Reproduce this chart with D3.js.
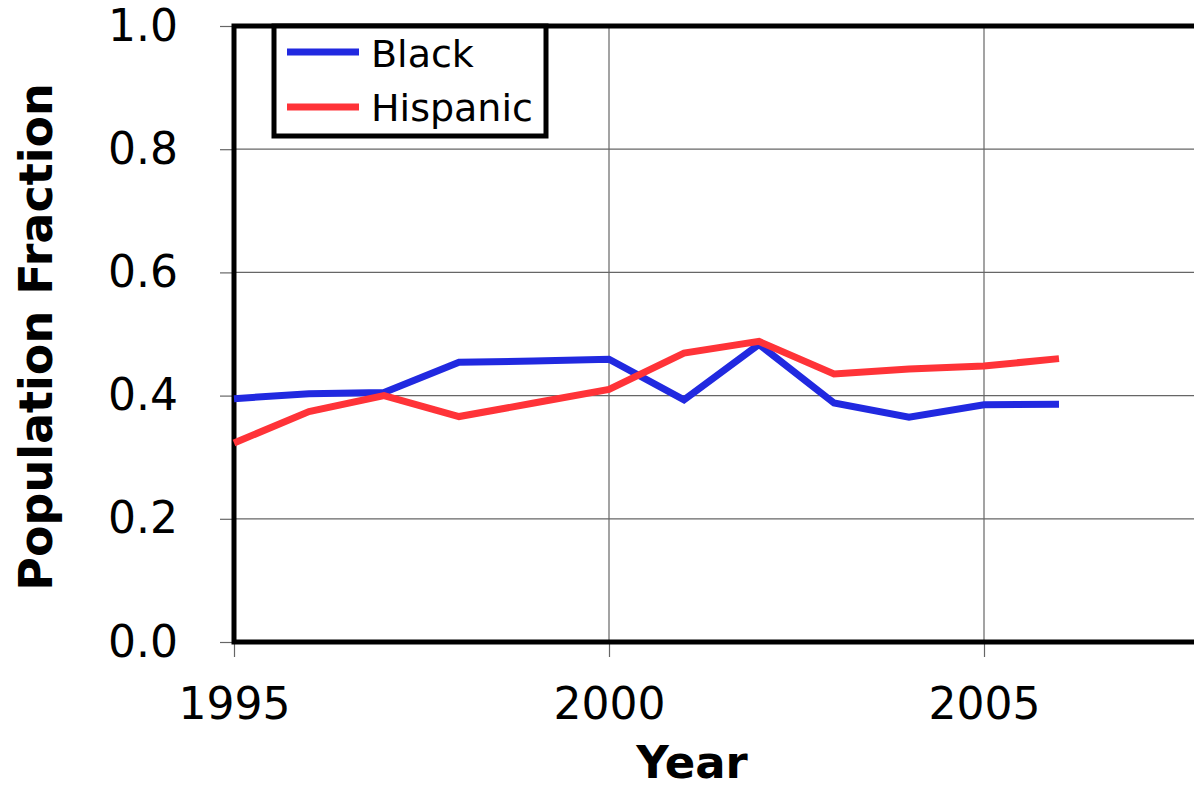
<!DOCTYPE html>
<html>
<head>
<meta charset="utf-8">
<script src="https://cdn.jsdelivr.net/npm/d3@7"></script>
<style>
  body { margin: 0; background: #fff; }
  text { font-family: "DejaVu Sans", Verdana, sans-serif; }
</style>
</head>
<body>
<div id="chart"></div>
<script>
// data
var years = [1995, 1996, 1997, 1998, 1999, 2000, 2001, 2002, 2003, 2004, 2005, 2006];
var black = [0.395, 0.403, 0.405, 0.454, 0.456, 0.459, 0.393, 0.483, 0.388, 0.365, 0.385, 0.386];
var hispanic = [0.323, 0.374, 0.400, 0.366, 0.388, 0.410, 0.469, 0.488, 0.435, 0.443, 0.448, 0.460];
var xTicks = [1995, 2000, 2005];
var yTicks = [0, 0.2, 0.4, 0.6, 0.8, 1.0];
var seriesNames = ["Black", "Hispanic"];
var colors = ["#2129e0", "#ff3338"];

var margin = {top: 26, right: 0, bottom: 146, left: 234},
    W = 1194, H = 788,
    height = H - margin.top - margin.bottom;

var svg = d3.select("#chart")
  .append("svg")
    .attr("width", W)
    .attr("height", H)
  .append("g")
    .attr("transform", "translate(" + margin.left + "," + margin.top + ")");

// plot runs off the right side of the picture (to 2008)
var x = d3.scaleLinear()
  .domain([1995, 2008])
  .range([0, 13 * 75]);

var y = d3.scaleLinear()
  .domain([0, 1])
  .range([height, 0]);

// grid lines
svg.append("g")
  .selectAll("line.hg")
  .data(yTicks.slice(1))
  .enter().append("line")
    .attr("x1", 0).attr("x2", W)
    .attr("y1", function(d) { return y(d); })
    .attr("y2", function(d) { return y(d); })
    .attr("stroke", "#666").attr("stroke-width", 1.2);

svg.append("g")
  .selectAll("line.vg")
  .data(xTicks.slice(1))
  .enter().append("line")
    .attr("x1", function(d) { return x(d); })
    .attr("x2", function(d) { return x(d); })
    .attr("y1", 0).attr("y2", height)
    .attr("stroke", "#666").attr("stroke-width", 1.2);

// axes
var yAxis = svg.append("g")
  .call(d3.axisLeft(y).tickValues(yTicks).tickFormat(d3.format(".1f")).tickSize(14).tickPadding(42));
var xAxis = svg.append("g")
  .attr("transform", "translate(0," + height + ")")
  .call(d3.axisBottom(x).tickValues(xTicks).tickFormat(d3.format("d")).tickSize(15).tickPadding(31));

[yAxis, xAxis].forEach(function(a) {
  a.select(".domain").remove();
  a.selectAll(".tick line").attr("stroke", "#666").attr("stroke-width", 1.2);
  a.selectAll(".tick text").attr("font-size", 44).attr("fill", "#000")
    .style("font-family", "'DejaVu Sans', Verdana, sans-serif");
});

// frame
svg.append("path")
  .attr("d", "M" + W + ",0H0V" + height + "H" + W)
  .attr("fill", "none")
  .attr("stroke", "#000")
  .attr("stroke-width", 5);

// lines
var line = d3.line()
  .x(function(d, i) { return x(years[i]); })
  .y(function(d) { return y(d); });

[black, hispanic].forEach(function(s, k) {
  svg.append("path")
    .datum(s)
    .attr("fill", "none")
    .attr("stroke", colors[k])
    .attr("stroke-width", 7)
    .attr("d", line);
});

// legend
var lg = svg.append("g").attr("transform", "translate(40,0)");
lg.append("rect")
  .attr("x", 0).attr("y", 0)
  .attr("width", 272).attr("height", 110)
  .attr("fill", "#fff")
  .attr("stroke", "#000")
  .attr("stroke-width", 5);
seriesNames.forEach(function(n, i) {
  lg.append("line")
    .attr("x1", 13).attr("x2", 85)
    .attr("y1", 26 + i * 55).attr("y2", 26 + i * 55)
    .attr("stroke", colors[i]).attr("stroke-width", 7);
  lg.append("text")
    .attr("x", 97).attr("y", 41 + i * 54)
    .attr("font-size", 38)
    .text(n);
});

// axis titles
svg.append("text")
  .attr("x", 458).attr("y", 778 - margin.top)
  .attr("text-anchor", "middle")
  .attr("font-size", 45)
  .attr("font-weight", "bold")
  .text("Year");

svg.append("text")
  .attr("transform", "translate(" + (52 - margin.left) + "," + (337 - margin.top) + ") rotate(-90)")
  .attr("text-anchor", "middle")
  .attr("font-size", 46)
  .attr("font-weight", "bold")
  .text("Population Fraction");
</script>
</body>
</html>
